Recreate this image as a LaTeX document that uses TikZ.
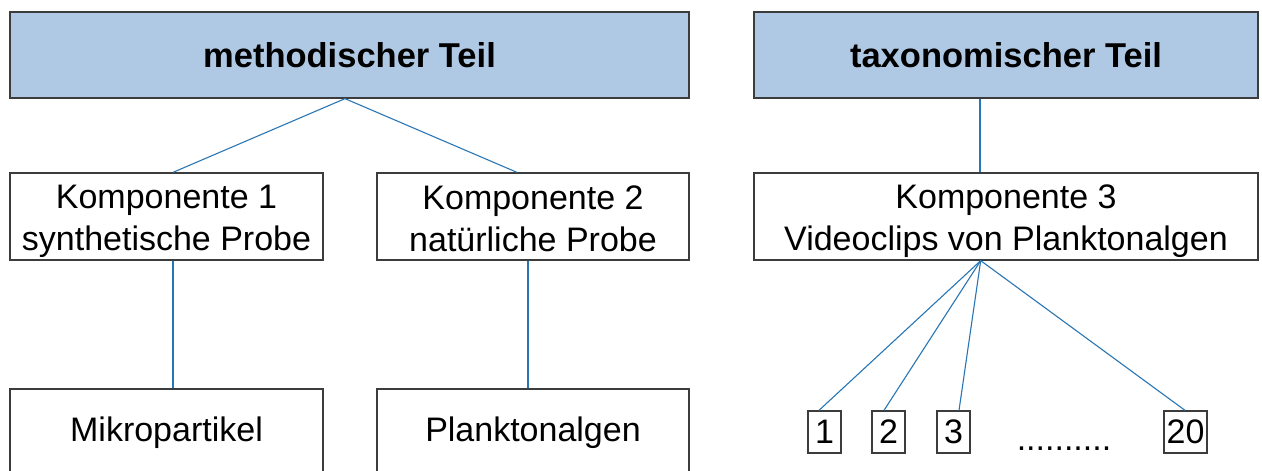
\documentclass[tikz,border=0pt]{standalone}
\usepackage{fontspec}
\setmainfont{Liberation Sans}
\usetikzlibrary{calc}
\definecolor{headfill}{RGB}{175,201,229}
\definecolor{boxline}{RGB}{60,60,60}
\definecolor{linkblue}{RGB}{40,118,180}
\newcommand\linestrut{\rule[-7pt]{0pt}{41pt}}
\tikzset{
  base/.style={draw=boxline, line width=1.3pt, inner sep=0pt, align=center,
    font=\fontsize{34}{42}\selectfont},
  headbox/.style={base, fill=headfill, minimum height=86pt, font=\fontsize{34.5}{42}\selectfont\bfseries},
  compbox/.style={base, fill=white, minimum height=87pt},
  numbox/.style={base, fill=white, minimum height=42pt, minimum width=33pt},
  link/.style={draw=linkblue, line width=1.1pt}
}
\begin{document}
\begin{tikzpicture}[x=1pt, y=-1pt]
\clip (0,0) rectangle (1262,471);
\fill[white] (0,0) rectangle (1262,471);
% header boxes
\node[headbox, minimum width=679pt] (meth) at (349.5,55) {methodischer Teil};
\node[headbox, minimum width=504pt] (tax) at (1006,55) {taxonomischer Teil};
% component boxes
\node[compbox, minimum width=313pt] (k1) at (166.5,216.5) {\linestrut Komponente 1\\\linestrut synthetische Probe};
\node[compbox, minimum width=312pt] (k2) at (533,216.5) {\linestrut Komponente 2\\\linestrut natürliche Probe};
\node[compbox, minimum width=504pt] (k3) at (1006,216.5) {\linestrut Komponente 3\\\linestrut Videoclips von Planktonalgen};
% bottom boxes
\node[compbox, minimum width=313pt] (mi) at (166.5,432.5) {Mikropartikel};
\node[compbox, minimum width=312pt] (pl) at (533,432.5) {Planktonalgen};
% numbered boxes
\node[numbox] (n1) at (824.5,432) {1};
\node[numbox] (n2) at (888.5,432) {2};
\node[numbox] (n3) at (953.5,432) {3};
\node[numbox, minimum width=43pt] (n20) at (1185.5,432) {20};
\node[font=\fontsize{34}{42}\selectfont, inner sep=0pt, anchor=base] (dots) at (1064,450) {..........};
% connectors
\draw[link] ([xshift=-4.5pt]meth.south) -- ([xshift=6.5pt]k1.north);
\draw[link] ([xshift=-4.5pt]meth.south) -- ([xshift=-16pt]k2.north);
\draw[link] ([xshift=6.5pt]k1.south) -- ([xshift=6.5pt]mi.north);
\draw[link] ([xshift=-5pt]k2.south) -- ([xshift=-5pt]pl.north);
\draw[link] ([xshift=-26pt]tax.south) -- ([xshift=-26pt]k3.north);
\draw[link] ([xshift=-25.3pt]k3.south) -- ([xshift=-5.5pt]n1.north);
\draw[link] ([xshift=-25.3pt]k3.south) -- ([xshift=-4.5pt]n2.north);
\draw[link] ([xshift=-25.3pt]k3.south) -- ([xshift=5.5pt]n3.north);
\draw[link] ([xshift=-25.3pt]k3.south) -- ([xshift=-0.5pt]n20.north);
\end{tikzpicture}
\end{document}
